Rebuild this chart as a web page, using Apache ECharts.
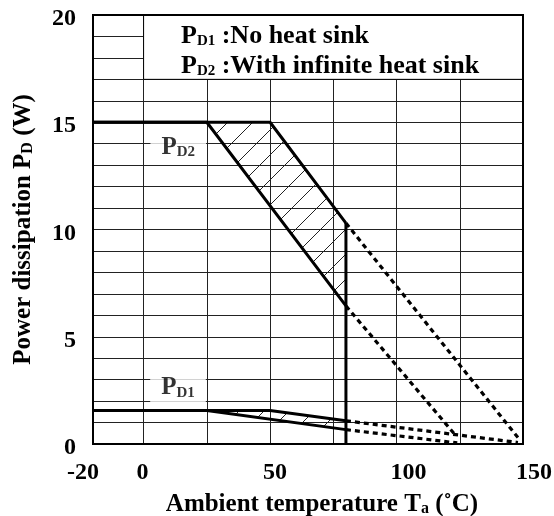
<!DOCTYPE html>
<html><head><meta charset="utf-8">
<script src="https://cdn.jsdelivr.net/npm/echarts@6/dist/echarts.min.js"></script>
<style>html,body{margin:0;padding:0;background:#fff}#c{width:554px;height:516px}</style>
</head><body><div id="c"></div>
<script>
// ---- data ----
const xTickLabels = [-20, 0, 50, 100, 150];
const yTickLabels = [0, 5, 10, 15, 20];
const vGridTemps = [0, 25, 50, 75, 100, 125];

const pd2Upper = [[-20, 15], [50, 15], [80, 10.3]];
const pd2Lower = [[-20, 15], [25, 15], [80, 6.44]];
const pd2Cutoff = [[80, 10.3], [80, 0]];
const pd2UpperExt = [[80, 10.3], [148, 0.3]];
const pd2LowerExt = [[80, 6.44], [123, 0.45]];

const pd1Upper = [[-20, 1.56], [50, 1.56], [80, 1.08]];
const pd1Lower = [[-20, 1.56], [25, 1.56], [80, 0.67]];
const pd1UpperExt = [[80, 1.08], [148, 0.07]];
const pd1LowerExt = [[80, 0.67], [124, 0.05]];

const legendBox = [[0, 17], [150, 20]];
const pd2LabelAt = [13.7, 13.82];
const pd1LabelAt = [13.6, 2.62];

// ---- style ----
const FONT = "'Liberation Serif','Times New Roman',serif";
const xLabelShift = { m20: [0, 20, 0, 0], t0: [0, 2, 0, 0], t50: [0, 0, 0, 10], t100: [0, 0, 0, 24], t150: [0, 0, 0, 22] };
const xKey = v => (v < 0 ? 'm' + (-v) : 't' + v);

function mkRich(mainSize, subSize, lh) {
  return {
    p: { fontFamily: FONT, fontWeight: 'bold', fontSize: mainSize, lineHeight: lh, color: '#000', verticalAlign: 'bottom' },
    s: { fontFamily: FONT, fontWeight: 'bold', fontSize: subSize, lineHeight: lh - 0.675 * (mainSize - subSize), color: '#000', verticalAlign: 'bottom' }
  };
}

const pc = document.createElement('canvas');
pc.width = 25; pc.height = 25;
const g = pc.getContext('2d');
g.strokeStyle = '#222'; g.lineWidth = 1;
g.beginPath();
g.moveTo(-1, 26); g.lineTo(26, -1);
g.moveTo(-2, 2); g.lineTo(2, -2);
g.moveTo(23, 27); g.lineTo(27, 23);
g.stroke();
const hatchPattern = { image: pc, repeat: 'repeat' };

function hatch(upper, lower) {
  return {
    type: 'custom', z: 2, silent: true, clip: true, data: [[0, 0]],
    renderItem: (params, api) => {
      const poly = upper.concat(lower.slice().reverse());
      return { type: 'polygon', shape: { points: poly.map(p => api.coord(p)) }, style: { fill: hatchPattern, stroke: null } };
    }
  };
}
function solid(d) {
  return { type: 'line', z: 4, data: d, symbol: 'none', silent: true, lineStyle: { color: '#000', width: 3 } };
}
function dotted(d) {
  return { type: 'line', z: 4, data: d, symbol: 'none', silent: true, lineStyle: { color: '#000', width: 3.2, type: [5, 4] } };
}
function annot(at, txt) {
  const r = mkRich(25, 15, 25);
  return {
    type: 'scatter', z: 6, silent: true, symbolSize: 0, data: [at],
    label: { show: true, position: 'inside', formatter: '{p|P}{s|' + txt + '}', backgroundColor: '#fff', padding: [2, 11, 2, 11], rich: r }
  };
}

const xRich = {};
xTickLabels.forEach(v => {
  xRich[xKey(v)] = { fontFamily: FONT, fontWeight: 'bold', fontSize: 24, lineHeight: 24, color: '#000', padding: xLabelShift[xKey(v)] };
});

const chart = echarts.init(document.getElementById('c'), null, { renderer: 'canvas' });
chart.setOption({
  animation: false,
  backgroundColor: '#fff',
  title: {
    left: 181, top: 19, padding: 0,
    text: '{p|P}{s|D1}{p| :No heat sink}\n{p|P}{s|D2}{p| :With infinite heat sink}',
    textStyle: { rich: mkRich(26, 15, 30) }
  },
  grid: { left: 93, right: 31, top: 15, bottom: 72, outerBoundsMode: 'none', containLabel: false, show: true, borderColor: '#000', borderWidth: 2, backgroundColor: 'transparent', z: 10 },
  xAxis: {
    type: 'value', min: -20, max: 150, interval: 10,
    splitLine: { show: false }, axisLine: { show: false }, axisTick: { show: false },
    axisLabel: {
      margin: 17, showMinLabel: true, showMaxLabel: true,
      formatter: v => (xTickLabels.includes(v) ? '{' + xKey(v) + '|' + v + '}' : ''),
      rich: xRich
    },
    name: '{p|Ambient temperature T}{s|a}{p| (˚C)}',
    nameLocation: 'middle', nameGap: 48,
    nameTextStyle: { padding: [0, 0, 0, 28], rich: mkRich(25, 16, 25) }
  },
  yAxis: {
    type: 'value', min: 0, max: 20, interval: 1,
    splitLine: { show: true, lineStyle: { color: '#222', width: 1 } },
    axisLine: { show: false }, axisTick: { show: false },
    axisLabel: {
      margin: 17,
      formatter: v => (yTickLabels.includes(v) ? '{v|' + v + '}' : ''),
      rich: { v: { fontFamily: FONT, fontWeight: 'bold', fontSize: 24, lineHeight: 24, color: '#000', padding: [8, 0, 0, 0] } }
    },
    name: '{p|Power dissipation P}{s|D}{p| (W)}',
    nameLocation: 'middle', nameGap: 57,
    nameTextStyle: { rich: mkRich(25, 16, 25) }
  },
  series: [
    {
      type: 'line', data: [], silent: true, z: 1,
      markLine: {
        z: 1, silent: true, symbol: 'none', label: { show: false },
        lineStyle: { color: '#222', width: 1, type: 'solid' },
        data: vGridTemps.map(v => ({ xAxis: v }))
      },
      markArea: {
        z: 3, silent: true, label: { show: false },
        itemStyle: { color: '#fff', borderColor: '#000', borderWidth: 1 },
        data: [[{ coord: legendBox[0] }, { coord: legendBox[1] }]]
      }
    },
    hatch(pd2Upper, pd2Lower),
    hatch(pd1Upper, pd1Lower),
    solid(pd2Upper), solid(pd2Lower), solid(pd2Cutoff),
    solid(pd1Upper), solid(pd1Lower),
    dotted(pd2UpperExt), dotted(pd2LowerExt), dotted(pd1UpperExt), dotted(pd1LowerExt),
    annot(pd2LabelAt, 'D2'), annot(pd1LabelAt, 'D1')
  ]
});
</script></body></html>
